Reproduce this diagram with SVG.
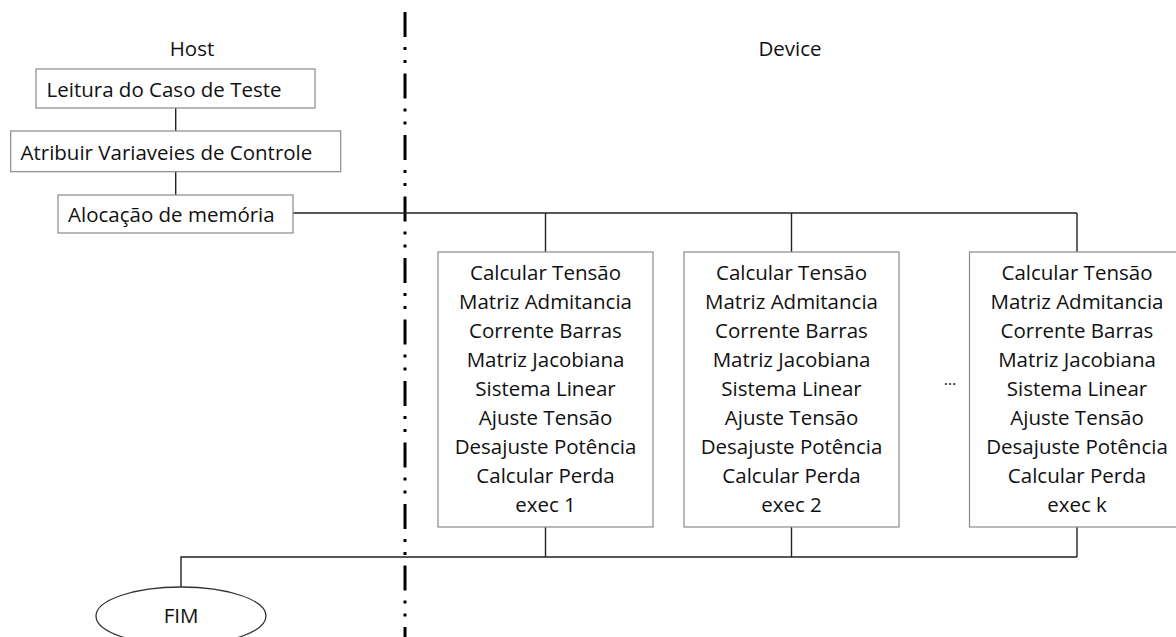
<svg xmlns="http://www.w3.org/2000/svg" width="1176" height="637" viewBox="0 0 1176 637">
<style>
text{font-family:"Open Sans","Noto Sans","Liberation Sans",sans-serif;font-size:20.5px;fill:#111}
.box{fill:#fff;stroke:#8a8a8a;stroke-width:1.2}
.c{text-anchor:middle}
.conn line,.conn polyline{stroke:#222;stroke-width:1.4;fill:none}
.sep{stroke:#000;stroke-width:3;stroke-dasharray:25 10 3 10 3 10.5}
</style>
<rect width="1176" height="637" fill="#fff"/>
<line class="sep" x1="405" y1="12" x2="405" y2="637"/>
<text class="c" x="192" y="56">Host</text>
<text class="c" x="790" y="56">Device</text>
<g class="conn" id="connectors">
<line x1="175.7" y1="108" x2="175.7" y2="131"/>
<line x1="175.7" y1="171.7" x2="175.7" y2="195"/>
<line x1="293" y1="213" x2="1077" y2="213"/>
<line x1="545.5" y1="213" x2="545.5" y2="252"/>
<line x1="791.5" y1="213" x2="791.5" y2="252"/>
<line x1="1077" y1="213" x2="1077" y2="252"/>
<line x1="545.5" y1="527" x2="545.5" y2="557"/>
<line x1="791.5" y1="527" x2="791.5" y2="557"/>
<line x1="1077" y1="527" x2="1077" y2="557"/>
<polyline points="1077,557 181,557 181,587"/>
</g>
<g id="leitura">
<rect class="box" x="36" y="69" width="279" height="39"/>
<text x="46.5" y="96.5">Leitura do Caso de Teste</text>
</g>
<g id="atribuir">
<rect class="box" x="10.7" y="131" width="330" height="40.7"/>
<text x="20.5" y="160">Atribuir Variaveies de Controle</text>
</g>
<g id="alocacao">
<rect class="box" x="58" y="195" width="235" height="38"/>
<text x="68" y="221.5">Alocação de memória</text>
</g>
<g id="exec1">
<rect class="box" x="438" y="252" width="215" height="275"/>
<text class="c" x="545.5" y="280">Calcular Tensão</text>
<text class="c" x="545.5" y="309">Matriz Admitancia</text>
<text class="c" x="545.5" y="338">Corrente Barras</text>
<text class="c" x="545.5" y="367">Matriz Jacobiana</text>
<text class="c" x="545.5" y="396">Sistema Linear</text>
<text class="c" x="545.5" y="425">Ajuste Tensão</text>
<text class="c" x="545.5" y="454">Desajuste Potência</text>
<text class="c" x="545.5" y="483">Calcular Perda</text>
<text class="c" x="545.5" y="512">exec 1</text>
</g>
<g id="exec2">
<rect class="box" x="684" y="252" width="215" height="275"/>
<text class="c" x="791.5" y="280">Calcular Tensão</text>
<text class="c" x="791.5" y="309">Matriz Admitancia</text>
<text class="c" x="791.5" y="338">Corrente Barras</text>
<text class="c" x="791.5" y="367">Matriz Jacobiana</text>
<text class="c" x="791.5" y="396">Sistema Linear</text>
<text class="c" x="791.5" y="425">Ajuste Tensão</text>
<text class="c" x="791.5" y="454">Desajuste Potência</text>
<text class="c" x="791.5" y="483">Calcular Perda</text>
<text class="c" x="791.5" y="512">exec 2</text>
</g>
<g id="ellipsis">
<text class="c" x="950" y="385" style="font-size:16px">…</text>
</g>
<g id="execk">
<rect class="box" x="969.5" y="252" width="215" height="275"/>
<text class="c" x="1077" y="280">Calcular Tensão</text>
<text class="c" x="1077" y="309">Matriz Admitancia</text>
<text class="c" x="1077" y="338">Corrente Barras</text>
<text class="c" x="1077" y="367">Matriz Jacobiana</text>
<text class="c" x="1077" y="396">Sistema Linear</text>
<text class="c" x="1077" y="425">Ajuste Tensão</text>
<text class="c" x="1077" y="454">Desajuste Potência</text>
<text class="c" x="1077" y="483">Calcular Perda</text>
<text class="c" x="1077" y="512">exec k</text>
</g>
<g id="fim">
<ellipse cx="181" cy="616" rx="85" ry="29" fill="#fff" stroke="#333" stroke-width="1.3"/>
<text class="c" x="181" y="623">FIM</text>
</g>
</svg>
